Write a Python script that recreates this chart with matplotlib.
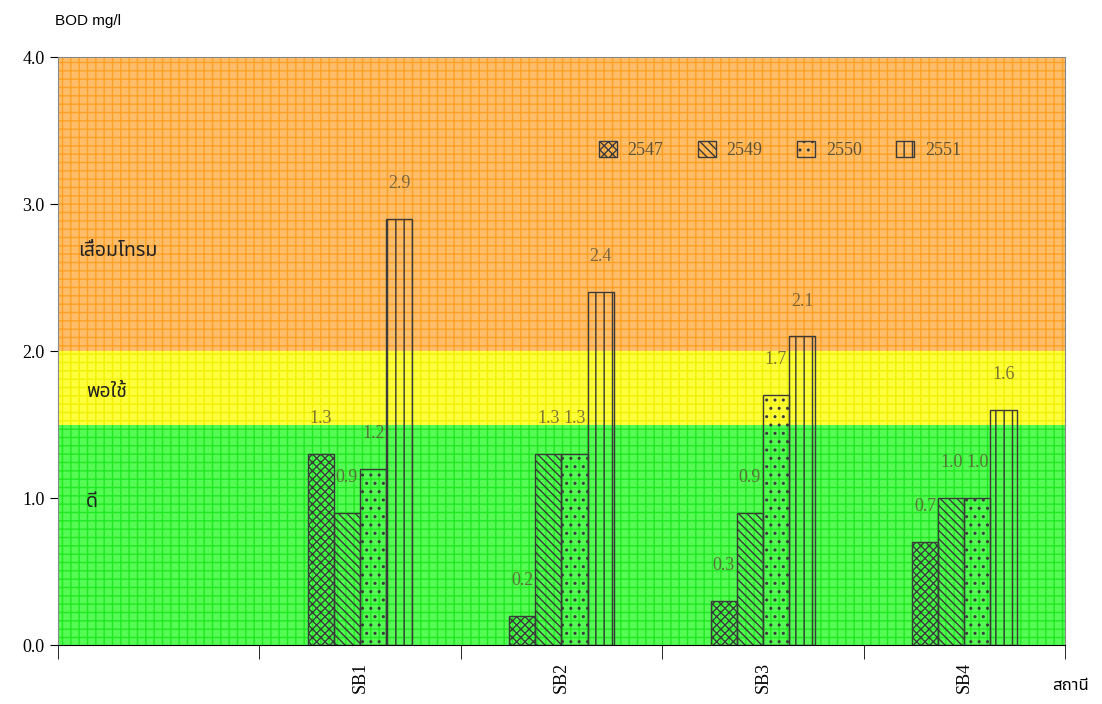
import matplotlib
matplotlib.use("Agg")
import matplotlib.pyplot as plt
import numpy as np

# stations (first slot is empty in the original)
stations = ["", "SB1", "SB2", "SB3", "SB4"]
years = ["2547", "2549", "2550", "2551"]
bod_2547 = [None, 1.3, 0.2, 0.3, 0.7]
bod_2549 = [None, 0.9, 1.3, 0.9, 1.0]
bod_2550 = [None, 1.2, 1.3, 1.7, 1.0]
bod_2551 = [None, 2.9, 2.4, 2.1, 1.6]
series = [bod_2547, bod_2549, bod_2550, bod_2551]

# quality bands: (low, high, label)
bands = [(0.0, 1.5, "ดี"), (1.5, 2.0, "พอใช้"), (2.0, 4.0, "เสื่อมโทรม")]
band_face = ["#55fa55", "#ffff40", "#ffbd6a"]
band_hatch_col = ["#22e822", "#f0f000", "#ffa024"]
band_label_y = [0.97, 1.72, 2.68]
band_label_x = [0.028, 0.028, 0.02]

hatches = ["xxxx", "\\\\\\\\", "..", "||"]

serif = ["Liberation Serif", "DejaVu Serif"]
thai = ["Noto Sans Thai", "Loma", "Garuda", "DejaVu Sans", "Noto Sans"]

fig = plt.figure(figsize=(11.02, 7.04), dpi=100)
ax = fig.add_axes([0.0526, 0.0838, 0.9138, 0.8352])

x = np.arange(len(stations))
ax.set_xlim(-0.5, len(stations) - 0.5)
ax.set_ylim(0, 4)

for (lo, hi, lab), fc, hc, ly, lx in zip(bands, band_face, band_hatch_col, band_label_y, band_label_x):
    ax.axhspan(lo, hi, facecolor=fc, edgecolor=hc, hatch="++", linewidth=0, zorder=0)
    ax.text(lx, ly, lab, transform=ax.get_yaxis_transform(),
            fontsize=14, family=thai, color="#222222", va="center")

w = 0.13
for i, (vals, h, yr) in enumerate(zip(series, hatches, years)):
    xs = [xi + (i - 1.5) * w for xi, v in zip(x, vals) if v is not None]
    vs = [v for v in vals if v is not None]
    ax.bar(xs, vs, width=w, facecolor="none", edgecolor="#3a3a3a", hatch=h,
           linewidth=1.0, zorder=2, label=yr)
    for xv, v in zip(xs, vs):
        ax.text(xv, v + 0.24, f"{v:.1f}", ha="center", va="center",
                fontsize=13, family=serif, color="#5c5236", alpha=0.8, zorder=3)

ax.set_yticks([0, 1, 2, 3, 4])
ax.set_yticklabels([f"{t:.1f}" for t in [0, 1, 2, 3, 4]], family=serif, fontsize=13)
ax.set_xticks(x)
ax.set_xticklabels(stations, rotation=90, family=serif, fontsize=13)
ax.tick_params(axis="x", which="major", length=0, pad=12)
ax.set_xticks(np.arange(-0.5, len(stations)), minor=True)
ax.tick_params(axis="x", which="minor", length=10, direction="out")
ax.tick_params(axis="y", length=6, direction="out")

for s in ax.spines.values():
    s.set_color("#888888")
ax.spines["bottom"].set_color("black")

fig.text(0.05, 0.97, "BOD mg/l", fontsize=11, family=["Liberation Sans", "DejaVu Sans"], va="center")
fig.text(0.955, 0.025, "สถานี", fontsize=12, family=thai, va="center")

leg = ax.legend(loc="upper right", bbox_to_anchor=(0.913, 0.885), ncol=4, frameon=False,
                prop={"family": serif, "size": 13}, handlelength=1.0, handleheight=1.0,
                columnspacing=1.9, handletextpad=0.6)
for t in leg.get_texts():
    t.set_color("#5c5236")

fig.savefig("out.png", dpi=100)
